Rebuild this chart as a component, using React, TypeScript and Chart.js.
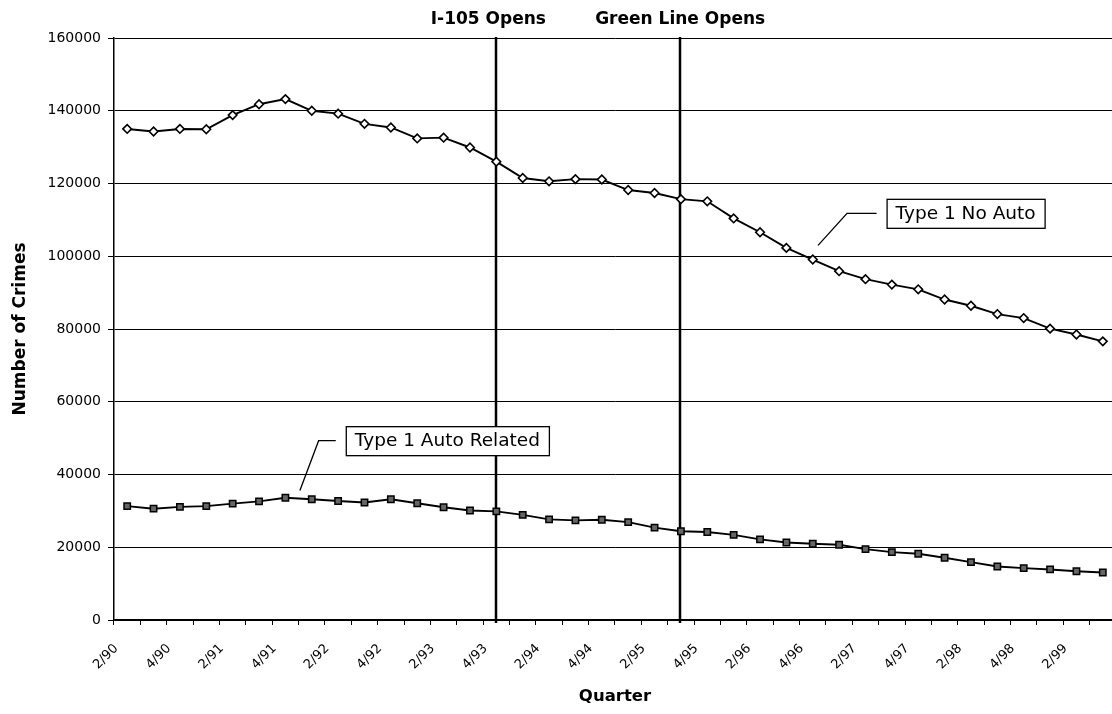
import React, { useEffect, useRef } from 'react';
import { Chart, registerables } from 'chart.js';

Chart.register(...registerables);

const quarters = [
  '2/90', '3/90', '4/90',
  '1/91', '2/91', '3/91', '4/91',
  '1/92', '2/92', '3/92', '4/92',
  '1/93', '2/93', '3/93', '4/93',
  '1/94', '2/94', '3/94', '4/94',
  '1/95', '2/95', '3/95', '4/95',
  '1/96', '2/96', '3/96', '4/96',
  '1/97', '2/97', '3/97', '4/97',
  '1/98', '2/98', '3/98', '4/98',
  '1/99', '2/99', '3/99',
];

const type1NoAuto = [
  135000, 134300, 135000, 134900, 138800, 141800, 143200, 140000, 139200, 136400,
  135400, 132400, 132600, 129900, 126000, 121500, 120600, 121200, 121100, 118200,
  117400, 115700, 115100, 110400, 106600, 102300, 99100, 95900, 93700, 92200,
  90900, 88100, 86400, 84100, 83000, 80100, 78500, 76600,
];

const type1AutoRelated = [
  31300, 30600, 31100, 31300, 32000, 32600, 33600, 33200, 32700, 32300,
  33200, 32100, 31000, 30100, 29850, 28900, 27650, 27400, 27550, 26900,
  25400, 24400, 24200, 23400, 22150, 21300, 20950, 20700, 19500, 18650,
  18200, 17100, 15900, 14700, 14250, 13900, 13400, 13050,
];

const yMin = 0;
const yMax = 160000;
const yStep = 20000;

const eventNames = ['I-105 Opens', 'Green Line Opens'];
const eventQuarterIndex = [14, 20.97];

const seriesNames = ['Type 1 No Auto', 'Type 1 Auto Related'];

const FONT = '"DejaVu Sans", Arial, sans-serif';

const overlayPlugin = {
  id: 'overlay',
  beforeDatasetsDraw(chart: any) {
    const { ctx, chartArea, scales } = chart;
    const x = scales.x;
    ctx.save();
    ctx.strokeStyle = '#000';
    ctx.lineWidth = 2.5;
    eventQuarterIndex.forEach((idx) => {
      const px = Math.round(x.getPixelForValue(idx));
      ctx.beginPath();
      ctx.moveTo(px, chartArea.top - 1);
      ctx.lineTo(px, chartArea.bottom + 3);
      ctx.stroke();
    });
    ctx.restore();
  },
  afterDraw(chart: any) {
    const { ctx, scales } = chart;
    const x = scales.x;
    const y = scales.y;
    ctx.save();
    // event titles
    ctx.fillStyle = '#000';
    ctx.font = `bold 17px ${FONT}`;
    ctx.textAlign = 'center';
    ctx.textBaseline = 'middle';
    const titleShift = [-8, 0];
    eventNames.forEach((name, i) => {
      const px = x.getPixelForValue(eventQuarterIndex[i]);
      ctx.fillText(name, px + titleShift[i], 20);
    });

    // callouts
    const callouts = [
      { text: seriesNames[0], tip: [26.2, 103000], elbow: [27.3, 111800], box: [28.8, 111800] },
      { text: seriesNames[1], tip: [6.55, 35600], elbow: [7.26, 49300], box: [8.29, 49300] },
    ];
    ctx.font = `18.5px ${FONT}`;
    ctx.textAlign = 'left';
    ctx.textBaseline = 'middle';
    callouts.forEach((c) => {
      const tx = x.getPixelForValue(c.tip[0]);
      const ty = y.getPixelForValue(c.tip[1]);
      const ex = x.getPixelForValue(c.elbow[0]);
      const ey = y.getPixelForValue(c.elbow[1]);
      const bx = x.getPixelForValue(c.box[0]);
      const by = y.getPixelForValue(c.box[1]);
      ctx.strokeStyle = '#000';
      ctx.lineWidth = 1.3;
      ctx.beginPath();
      ctx.moveTo(tx, ty);
      ctx.lineTo(ex, ey);
      ctx.lineTo(bx - 10, ey);
      ctx.stroke();
      const w = ctx.measureText(c.text).width;
      const padX = 9;
      const h = 29;
      ctx.fillStyle = '#fff';
      ctx.fillRect(bx, by - h / 2, w + padX * 2, h);
      ctx.strokeRect(bx + 0.5, by - h / 2 + 0.5, w + padX * 2, h);
      ctx.fillStyle = '#000';
      ctx.fillText(c.text, bx + padX, by + 1);
    });
    ctx.restore();
  },
};

export default function App() {
  const ref = useRef<HTMLCanvasElement | null>(null);

  useEffect(() => {
    if (!ref.current) return;
    const chart = new Chart(ref.current, {
      type: 'line',
      data: {
        labels: quarters,
        datasets: [
          {
            label: seriesNames[0],
            data: type1NoAuto,
            borderColor: '#000',
            borderWidth: 1.9,
            pointStyle: 'rectRot',
            pointRadius: 4.3,
            pointBackgroundColor: '#fff',
            pointBorderColor: '#000',
            pointBorderWidth: 1.6,
            tension: 0,
            fill: false,
          },
          {
            label: seriesNames[1],
            data: type1AutoRelated,
            borderColor: '#000',
            borderWidth: 1.9,
            pointStyle: 'rect',
            pointRadius: 4.5,
            pointBackgroundColor: '#666',
            pointBorderColor: '#000',
            pointBorderWidth: 1.5,
            tension: 0,
            fill: false,
          },
        ],
      },
      options: {
        responsive: false,
        animation: false,
        events: [],
        layout: { padding: { left: 0, top: 38, right: 12, bottom: 0 } },
        plugins: {
          legend: { display: false },
          tooltip: { enabled: false },
          title: { display: false },
        },
        scales: {
          x: {
            type: 'category',
            offset: true,
            grid: {
              display: true,
              drawOnChartArea: false,
              offset: true,
              tickLength: 5,
              color: '#000',
              lineWidth: 1,
            },
            border: { display: true, color: '#000', width: 1.5 },
            ticks: {
              autoSkip: false,
              minRotation: 45,
              maxRotation: 45,
              padding: 16,
              labelOffset: -11,
              color: '#000',
              font: { family: FONT, size: 13 },
              callback: (_v: any, i: number) => (i % 2 === 0 ? quarters[i] : ''),
            },
            title: {
              display: true,
              text: 'Quarter',
              color: '#000',
              font: { family: FONT, size: 16.5, weight: 'bold' },
              padding: { top: 0, bottom: 7 },
            },
            afterFit: (scale: any) => {
              scale.height = 94;
            },
          },
          y: {
            min: yMin,
            max: yMax,
            grid: {
              color: '#000',
              lineWidth: 1,
              tickLength: 6,
            },
            border: { display: true, color: '#000', width: 1.5 },
            ticks: {
              stepSize: yStep,
              padding: 7,
              color: '#000',
              font: { family: FONT, size: 14 },
              callback: (v: any) => String(v),
            },
            title: {
              display: true,
              text: 'Number of Crimes',
              color: '#000',
              font: { family: FONT, size: 17, weight: 'bold' },
              padding: { top: 10, bottom: 0 },
            },
            afterFit: (scale: any) => {
              scale.width = 114;
            },
          },
        },
      },
      plugins: [overlayPlugin],
    });
    return () => chart.destroy();
  }, []);

  return (
    <div
      style={{
        position: 'absolute',
        left: 0,
        top: 0,
        width: 1112,
        height: 714,
        overflow: 'hidden',
        background: '#fff',
      }}
    >
      <canvas ref={ref} width={1130} height={714} style={{ display: 'block', width: 1130, height: 714 }} />
    </div>
  );
}
